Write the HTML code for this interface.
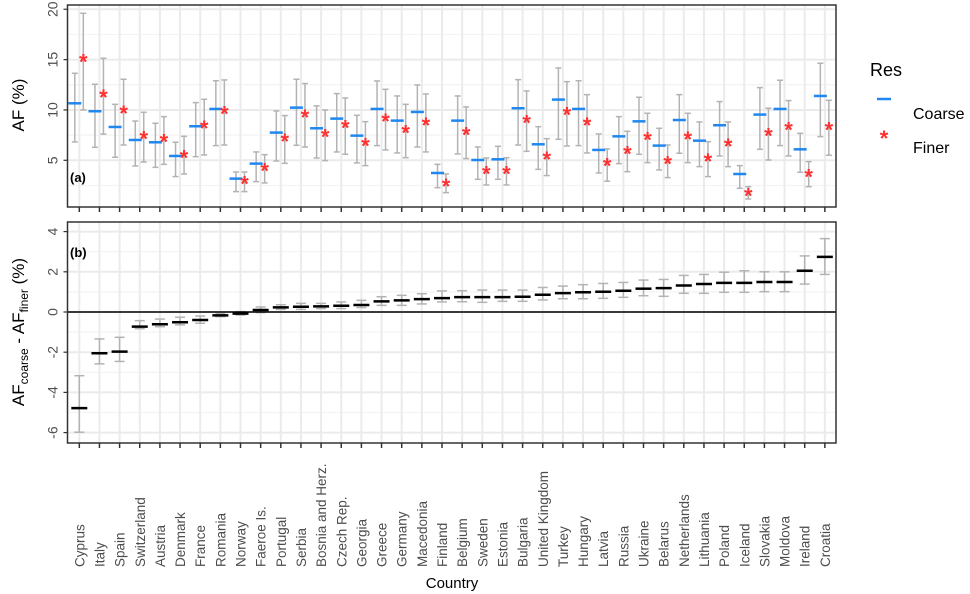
<!DOCTYPE html>
<html><head><meta charset="utf-8"><style>
body{margin:0;background:#fff;overflow:hidden;}
svg{display:block;font-family:"Liberation Sans",sans-serif;}
</style></head><body>
<svg id="chart" width="970" height="594" viewBox="0 0 970 594" xmlns="http://www.w3.org/2000/svg"></svg>
<script>
const countries=["Cyprus","Italy","Spain","Switzerland","Austria","Denmark","France","Romania","Norway","Faeroe Is.","Portugal","Serbia","Bosnia and Herz.","Czech Rep.","Georgia","Greece","Germany","Macedonia","Finland","Belgium","Sweden","Estonia","Bulgaria","United Kingdom","Turkey","Hungary","Latvia","Russia","Ukraine","Belarus","Netherlands","Lithuania","Poland","Iceland","Slovakia","Moldova","Ireland","Croatia"];
const coarse=[10.66,9.87,8.31,7.02,6.79,5.43,8.38,10.1,3.18,4.67,7.75,10.23,8.18,9.14,7.45,10.1,8.94,9.8,3.74,8.94,5.03,5.1,10.17,6.59,11.03,10.1,6.03,7.38,8.87,6.46,9.0,6.95,8.48,3.64,9.54,10.1,6.09,11.39];
const coarseHi=[13.64,12.55,10.56,8.9,8.68,6.79,10.73,12.9,3.84,5.83,9.9,13.05,10.4,11.62,9.47,12.88,11.39,12.48,4.6,11.39,6.32,6.39,13.01,8.34,14.17,12.9,7.62,9.34,11.26,8.18,11.52,8.81,10.83,4.47,12.22,12.95,7.68,14.64];
const coarseLo=[6.82,6.29,5.3,4.44,4.3,3.38,5.36,6.46,1.89,2.88,4.93,6.49,5.23,5.83,4.74,6.46,5.73,6.32,2.28,5.63,3.11,3.11,6.52,4.1,7.09,6.46,3.74,4.67,5.6,4.04,5.7,4.37,5.43,2.22,6.09,6.46,3.81,7.35];
const finer=[15.0,11.49,9.9,7.35,7.09,5.46,8.41,9.87,2.88,4.2,7.12,9.5,7.55,8.44,6.66,9.1,7.95,8.68,2.65,7.78,3.87,3.87,8.97,5.33,9.74,8.71,4.67,5.86,7.25,4.87,7.32,5.13,6.62,1.72,7.68,8.25,3.61,8.28];
const finerHi=[19.6,15.13,13.05,9.77,9.34,7.38,11.06,12.98,3.84,5.56,9.44,12.62,10.0,11.19,8.84,12.05,10.56,11.59,3.64,10.3,5.23,5.26,11.89,7.15,12.81,11.52,6.13,7.88,9.67,6.52,9.67,6.85,8.81,2.38,10.17,10.93,4.87,10.96];
const finerLo=[10.0,7.6,6.52,4.83,4.6,3.64,5.53,6.52,1.89,2.75,4.7,6.32,4.97,5.6,4.47,6.03,5.26,5.83,1.79,5.17,2.55,2.55,5.89,3.48,6.42,5.73,2.92,3.87,4.77,3.28,4.77,3.38,4.37,1.16,5.03,5.43,2.38,5.5];
const diff=[-4.78,-2.05,-1.97,-0.73,-0.61,-0.51,-0.4,-0.17,-0.08,0.1,0.23,0.26,0.28,0.31,0.35,0.53,0.58,0.64,0.69,0.74,0.74,0.74,0.76,0.86,0.94,0.98,1.01,1.06,1.16,1.19,1.32,1.39,1.45,1.45,1.49,1.49,2.05,2.74];
const diffHi=[-3.17,-1.34,-1.26,-0.43,-0.35,-0.26,-0.2,-0.08,0.02,0.25,0.36,0.43,0.43,0.5,0.58,0.76,0.83,0.91,1.05,1.06,1.09,1.09,1.09,1.22,1.29,1.36,1.42,1.47,1.59,1.62,1.82,1.87,1.98,2.05,2.0,2.0,2.79,3.65];
const diffLo=[-5.98,-2.58,-2.46,-0.83,-0.73,-0.64,-0.56,-0.23,-0.15,-0.03,0.13,0.13,0.17,0.17,0.22,0.33,0.33,0.4,0.5,0.51,0.48,0.53,0.53,0.6,0.66,0.66,0.68,0.73,0.81,0.78,0.93,0.93,0.98,0.98,1.01,1.01,1.39,1.87];
const topTicks=[5,10,15,20];
const botTicks=[-6,-4,-2,0,2,4];

const NS="http://www.w3.org/2000/svg";
const svg=document.getElementById('chart');
function mk(tag,attrs,parent){const e=document.createElementNS(NS,tag);for(const k in attrs)e.setAttribute(k,attrs[k]);(parent||svg).appendChild(e);return e;}
const L=67.5,R=836;
const xc=i=>79.3+i*20.15;
const yTop=v=>160.3-(v-5)*10.07;
const yBot=v=>312-v*20.1;
const T1=5,B1=207,T2=222,B2=443;

function grid(top,bot,yf,lo,hi,step){
  const g=mk('g',{});
  
  
  for(let v=lo;v<=hi+1e-9;v+=step/2){const y=yf(v);if(y<top||y>bot)continue;
    const isMaj=Math.abs(v/step-Math.round(v/step))<1e-6;
    mk('line',{x1:L,x2:R,y1:y,y2:y,stroke:isMaj?'#ebebeb':'#f3f3f3','stroke-width':isMaj?2:1.2},g);}
  countries.forEach((c,i)=>mk('line',{x1:xc(i),x2:xc(i),y1:top,y2:bot,stroke:'#ebebeb','stroke-width':2},g));
}
grid(T1,B1,yTop,0,20,5);
grid(T2,B2,yBot,-7,5,2);

function errbar(x,lo,hi,yf,w,name){
  const g=mk('g',{stroke:'#b3b3b3','stroke-width':1.5});
  
  
  mk('line',{x1:x,x2:x,y1:yf(lo),y2:yf(hi)},g);
  mk('line',{x1:x-w,x2:x+w,y1:yf(lo),y2:yf(lo)},g);
  mk('line',{x1:x-w,x2:x+w,y1:yf(hi),y2:yf(hi)},g);
}
countries.forEach((c,i)=>{
  const xa=xc(i)-4.5,xb=xc(i)+4;
  errbar(xa,coarseLo[i],coarseHi[i],yTop,3,'coarse-error-bar');
  errbar(xb,finerLo[i],finerHi[i],yTop,3,'finer-error-bar');
  const d=mk('line',{x1:xa-6.5,x2:xa+6.5,y1:yTop(coarse[i]),y2:yTop(coarse[i]),stroke:'#1e88f0','stroke-width':2.5});
  
  
  const s=mk('text',{x:xb,y:yTop(finer[i])+10,'text-anchor':'middle','font-size':22,'font-weight':'bold',fill:'#ff3030'});
  s.textContent='*';
  
  
  errbar(xc(i),diffLo[i],diffHi[i],yBot,5,'diff-error-bar');
  const b=mk('line',{x1:xc(i)-8,x2:xc(i)+8,y1:yBot(diff[i]),y2:yBot(diff[i]),stroke:'#000','stroke-width':2.5});
  
  
});
const zl=mk('line',{x1:L,x2:R,y1:yBot(0),y2:yBot(0),stroke:'#000','stroke-width':1.5});



[[T1,B1,'top-panel-frame'],[T2,B2,'bottom-panel-frame']].forEach(([t,b,n])=>{
  const r=mk('rect',{x:L,y:t,width:R-L,height:b-t,fill:'none',stroke:'#333','stroke-width':1.5});
  
  
  countries.forEach((c,i)=>mk('line',{x1:xc(i),x2:xc(i),y1:b,y2:b+5,stroke:'#333','stroke-width':1.5}));
});
function yticks(ticks,yf){
  ticks.forEach(v=>{const y=yf(v);
    mk('line',{x1:L-4,x2:L,y1:y,y2:y,stroke:'#333','stroke-width':1.2});
    const t=mk('text',{x:0,y:0,transform:`translate(${L-10},${y}) rotate(-90)`,'text-anchor':'middle','font-size':14,fill:'#4d4d4d'});
    t.textContent=v;
    
    
  });
}
yticks(topTicks,yTop);
yticks(botTicks,yBot);

countries.forEach((c,i)=>{
  const t=mk('text',{x:0,y:0,transform:`translate(${xc(i)+5},567) rotate(-90)`,'text-anchor':'start','font-size':13.5,fill:'#4d4d4d'});
  t.textContent=c;
  
  
});
</script>
<svg style="position:absolute;left:0;top:0" width="970" height="594" xmlns="http://www.w3.org/2000/svg">
<text x="70" y="182" font-size="13" font-weight="bold" font-family="Liberation Sans, sans-serif">(a)</text>
<text x="70" y="257" font-size="13" font-weight="bold" font-family="Liberation Sans, sans-serif">(b)</text>
<text transform="translate(24,105) rotate(-90)" text-anchor="middle" font-size="17" font-family="Liberation Sans, sans-serif">AF (%)</text>
<text transform="translate(24,332) rotate(-90)" text-anchor="middle" font-size="17" font-family="Liberation Sans, sans-serif">AF<tspan font-size="12" dy="4">coarse</tspan><tspan dy="-4"> - AF</tspan><tspan font-size="12" dy="4">finer</tspan><tspan dy="-4"> (%)</tspan></text>
<text x="452" y="588" text-anchor="middle" font-size="15" font-family="Liberation Sans, sans-serif">Country</text>
<text x="870" y="76" font-size="18" font-family="Liberation Sans, sans-serif">Res</text>
<line x1="877" x2="891" y1="99" y2="99" stroke="#1e88f0" stroke-width="2.5"/>
<text x="913" y="119" font-size="16" font-family="Liberation Sans, sans-serif">Coarse</text>
<text x="884" y="146" text-anchor="middle" font-size="22" font-weight="bold" fill="#ff3030" font-family="Liberation Sans, sans-serif">*</text>
<text x="913" y="153" font-size="16" font-family="Liberation Sans, sans-serif">Finer</text>
</svg>
</body></html>
